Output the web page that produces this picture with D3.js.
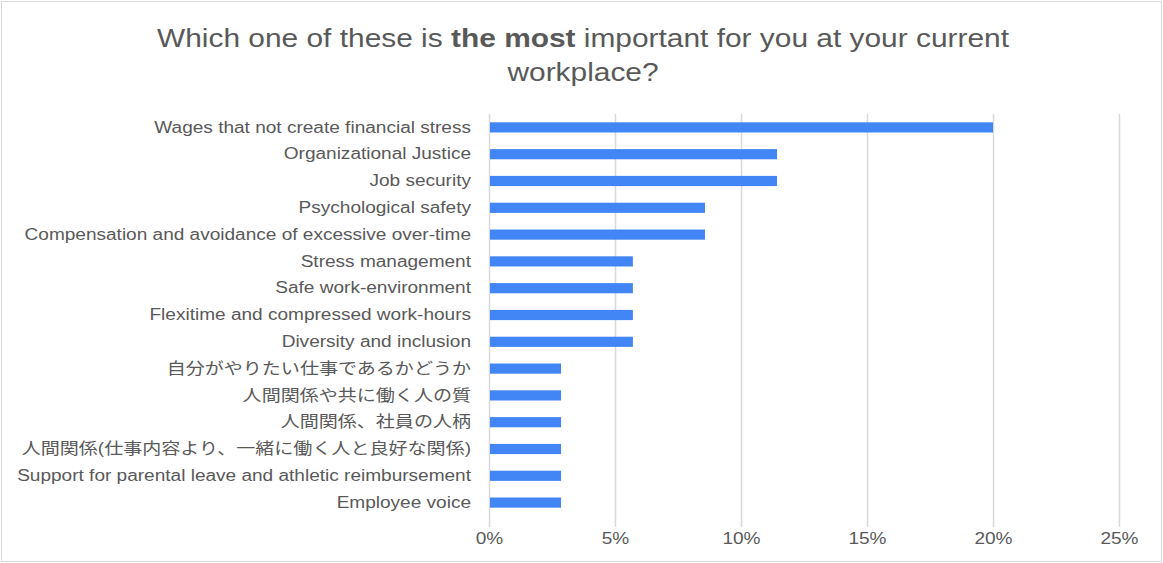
<!DOCTYPE html>
<html><head><meta charset="utf-8">
<script src="https://cdn.jsdelivr.net/npm/d3@7"></script>
<style>
html,body{margin:0;padding:0;background:#fff;}
svg{display:block;font-family:"Liberation Sans",Arial,"Noto Sans CJK JP",sans-serif;}
</style></head>
<body>
<svg id="chart" width="1163" height="563"></svg>
<script>
const categories = [
  "Wages that not create financial stress",
  "Organizational Justice",
  "Job security",
  "Psychological safety",
  "Compensation and avoidance of excessive over-time",
  "Stress management",
  "Safe work-environment",
  "Flexitime and compressed work-hours",
  "Diversity and inclusion",
  "自分がやりたい仕事であるかどうか",
  "人間関係や共に働く人の質",
  "人間関係、社員の人柄",
  "人間関係(仕事内容より、一緒に働く人と良好な関係)",
  "Support for parental leave and athletic reimbursement",
  "Employee voice"
];
const values = [0.2, 0.1143, 0.1143, 0.0857, 0.0857, 0.0571, 0.0571, 0.0571, 0.0571, 0.0286, 0.0286, 0.0286, 0.0286, 0.0286, 0.0286];
const tickValues = [0, 0.05, 0.10, 0.15, 0.20, 0.25];
const tickLabels = ["0%", "5%", "10%", "15%", "20%", "25%"];

const svg = d3.select("#chart");
const W = 1163, H = 563;

svg.append("rect").attr("x", 1.5).attr("y", 1.5).attr("width", W - 3).attr("height", H - 3)
  .attr("fill", "#fff").attr("stroke", "#d9d9d9").attr("stroke-width", 1);

// Title (horizontally stretched like the reference rendering)
const title = svg.append("text").attr("text-anchor", "middle").attr("fill", "#595959")
  .style("font-size", "26px")
  .attr("transform", "translate(583,0) scale(1.15,1)");
const t1 = title.append("tspan").attr("x", 0).attr("y", 47);
t1.append("tspan").text("Which one of these is ");
t1.append("tspan").attr("font-weight", "bold").text("the most");
t1.append("tspan").text(" important for you at your current");
title.append("tspan").attr("x", 0).attr("y", 81).text("workplace?");

const x = d3.scaleLinear().domain([0, 0.25]).range([489, 1119]);
const y = d3.scaleBand().domain(categories).range([114, 516]).paddingInner(0.62).paddingOuter(0.31);

// gridlines
svg.append("g").selectAll("line").data(tickValues).join("line")
  .attr("x1", d => Math.round(x(d)) + 0.5).attr("x2", d => Math.round(x(d)) + 0.5)
  .attr("y1", 114).attr("y2", 527)
  .attr("stroke", "#d9d9d9").attr("stroke-width", 1.5);

// bars
svg.append("g").selectAll("rect").data(values).join("rect")
  .attr("x", x(0) + 1)
  .attr("y", (d, i) => y(categories[i]))
  .attr("width", d => x(d) - x(0) - 1)
  .attr("height", y.bandwidth())
  .attr("fill", "#4285f4");

// category labels
const yAxis = d3.axisLeft(y).tickSize(0).tickPadding(0);
const gy = svg.append("g").attr("transform", "translate(471,0)").call(yAxis);
gy.select(".domain").remove();
gy.selectAll("text").attr("fill", "#595959").style("font-size", "16px")
  .style("font-family", "'Liberation Sans', Arial, 'Noto Sans CJK JP', sans-serif")
  .attr("transform", "scale(1.19,1)");

// x tick labels
const xAxis = d3.axisBottom(x).tickValues(tickValues).tickFormat((d, i) => tickLabels[i]).tickSize(0).tickPadding(0);
const gx = svg.append("g").attr("transform", "translate(0,533)").call(xAxis);
gx.select(".domain").remove();
gx.selectAll("text").attr("fill", "#595959").style("font-size", "16px")
  .style("font-family", "'Liberation Sans', Arial, sans-serif")
  .attr("transform", "scale(1.19,1)");
</script>
</body></html>
